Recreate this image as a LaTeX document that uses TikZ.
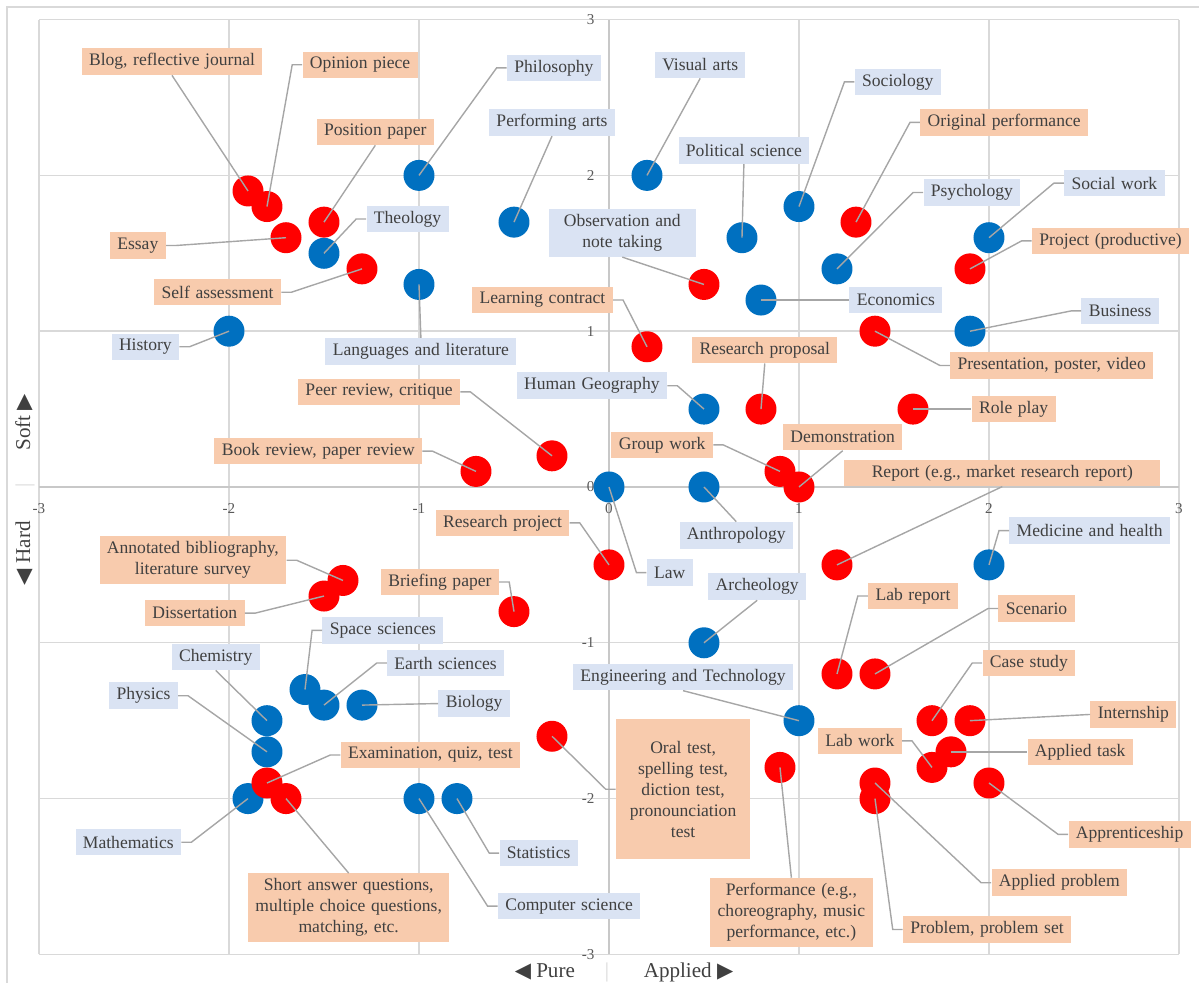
\documentclass[tikz,border=0pt]{standalone}
\usepackage{fontspec}
\setmainfont{Liberation Serif}
\newfontfamily\symfont{DejaVu Sans}
\definecolor{chText}{HTML}{404040}
\definecolor{chTick}{HTML}{595959}
\definecolor{chGrid}{HTML}{D9D9D9}
\definecolor{chAxis}{HTML}{C8C8C8}
\definecolor{chLead}{HTML}{A6A6A6}
\definecolor{chRed}{HTML}{FF0000}
\definecolor{chBlue}{HTML}{0070C0}
\definecolor{chPeach}{HTML}{F8CBAD}
\definecolor{chSky}{HTML}{DAE3F3}
\usepackage{tikz}
\newcommand\labfont{\fontsize{10}{11.9}\selectfont\spaceskip=0.32em plus 0.05em minus 0.02em}

\begin{document}
\begin{tikzpicture}[
  x=3.8cm, y=3.116cm,
  lab/.style={text=chText, font=\labfont, align=center,
    inner xsep=4.2pt, inner ysep=3pt, minimum height=0.53cm},
  task/.style={lab, fill=chPeach},
  field/.style={lab, fill=chSky},
  rpt/.style={circle, fill=chRed, inner sep=0pt, minimum size=0.62cm},
  bpt/.style={circle, fill=chBlue, inner sep=0pt, minimum size=0.62cm},
  lead/.style={draw=chLead, line width=0.8pt},
  gridl/.style={draw=chGrid, line width=0.8pt},
  ticklab/.style={text=chTick, font=\fontsize{8.6}{10}\selectfont, inner sep=1pt},
  axtitle/.style={text=chText, font=\fontsize{12}{14}\selectfont}
]
  \useasboundingbox (-3.2053,-3.1836) rectangle (3.1053,3.1258);

  % chart frame and grid
  \draw[gridl] (-3.1684,-3.1836) -- (-3.1684,3.0809) -- (3.1053,3.0809);
  \foreach \k in {-3,...,3} {
    \draw[gridl] (\k,-3) -- (\k,3);
    \draw[gridl] (-3,\k) -- (3,\k);
  }
  \draw[draw=chAxis, line width=0.8pt] (-3,0) -- (3,0);
  \draw[draw=chAxis, line width=0.8pt] (0,-3) -- (0,3);
  \foreach \k in {-3,...,3} {
    \node[ticklab] (xt\k) at (\k,-0.141) {\k};
    \node[ticklab, anchor=east] (yt\k) at (-0.065,\k) {\k};
  }

  % axis titles
  \node[axtitle] (xtitle) at (0.079,-3.113)
    {{\symfont ◀} Pure\hspace{17pt}{\color{chGrid}|}\hspace{19.8pt}Applied {\symfont ▶}};
  \node[axtitle, rotate=90] (ytitle) at (-3.074,-0.016)
    {{\symfont ◀} Hard\hspace{19.2pt}{\color{chGrid}|}\hspace{18.7pt}Soft {\symfont ▶}};

  % disciplines
  \node[bpt] (p-philosophy) at (-1,2) {};
  \node[bpt] (p-theology) at (-1.5,1.5) {};
  \node[bpt] (p-performing) at (-0.5,1.7) {};
  \node[bpt] (p-visual) at (0.2,2) {};
  \node[bpt] (p-polsci) at (0.7,1.6) {};
  \node[bpt] (p-sociology) at (1,1.8) {};
  \node[bpt] (p-psych) at (1.2,1.4) {};
  \node[bpt] (p-socwork) at (2,1.6) {};
  \node[bpt] (p-econ) at (0.8,1.2) {};
  \node[bpt] (p-business) at (1.9,1) {};
  \node[bpt] (p-languages) at (-1,1.3) {};
  \node[bpt] (p-history) at (-2,1) {};
  \node[bpt] (p-humgeo) at (0.5,0.5) {};
  \node[bpt] (p-law) at (0,0) {};
  \node[bpt] (p-anthro) at (0.5,0) {};
  \node[bpt] (p-archeo) at (0.5,-1) {};
  \node[bpt] (p-medicine) at (2,-0.5) {};
  \node[bpt] (p-engineer) at (1,-1.5) {};
  \node[bpt] (p-space) at (-1.6,-1.3) {};
  \node[bpt] (p-earth) at (-1.5,-1.4) {};
  \node[bpt] (p-biology) at (-1.3,-1.4) {};
  \node[bpt] (p-chem) at (-1.8,-1.5) {};
  \node[bpt] (p-physics) at (-1.8,-1.7) {};
  \node[bpt] (p-maths) at (-1.9,-2) {};
  \node[bpt] (p-compsci) at (-1,-2) {};
  \node[bpt] (p-stats) at (-0.8,-2) {};

  % assessment tasks
  \node[rpt] (p-blog) at (-1.9,1.9) {};
  \node[rpt] (p-opinion) at (-1.8,1.8) {};
  \node[rpt] (p-essay) at (-1.7,1.6) {};
  \node[rpt] (p-position) at (-1.5,1.7) {};
  \node[rpt] (p-selfass) at (-1.3,1.4) {};
  \node[rpt] (p-observ) at (0.5,1.3) {};
  \node[rpt] (p-learning) at (0.2,0.9) {};
  \node[rpt] (p-original) at (1.3,1.7) {};
  \node[rpt] (p-project) at (1.9,1.4) {};
  \node[rpt] (p-present) at (1.4,1) {};
  \node[rpt] (p-proposal) at (0.8,0.5) {};
  \node[rpt] (p-roleplay) at (1.6,0.5) {};
  \node[rpt] (p-peer) at (-0.3,0.2) {};
  \node[rpt] (p-bookrev) at (-0.7,0.1) {};
  \node[rpt] (p-group) at (0.9,0.1) {};
  \node[rpt] (p-demo) at (1,0) {};
  \node[rpt] (p-report) at (1.2,-0.5) {};
  \node[rpt] (p-resproj) at (0,-0.5) {};
  \node[rpt] (p-briefing) at (-0.5,-0.8) {};
  \node[rpt] (p-annot) at (-1.4,-0.6) {};
  \node[rpt] (p-dissert) at (-1.5,-0.7) {};
  \node[rpt] (p-exam) at (-1.8,-1.9) {};
  \node[rpt] (p-shortans) at (-1.7,-2) {};
  \node[rpt] (p-oral) at (-0.3,-1.6) {};
  \node[rpt] (p-perform) at (0.9,-1.8) {};
  \node[rpt] (p-labrep) at (1.2,-1.2) {};
  \node[rpt] (p-scenario) at (1.4,-1.2) {};
  \node[rpt] (p-casest) at (1.7,-1.5) {};
  \node[rpt] (p-intern) at (1.9,-1.5) {};
  \node[rpt] (p-apptask) at (1.8,-1.7) {};
  \node[rpt] (p-labwork) at (1.7,-1.8) {};
  \node[rpt] (p-appren) at (2,-1.9) {};
  \node[rpt] (p-appprob) at (1.4,-1.9) {};
  \node[rpt] (p-probset) at (1.4,-2) {};

  % discipline labels
  \node[field] (philosophy) at (-0.29,2.69) {Philosophy};
  \node[field] (theology) at (-1.06,1.72) {Theology};
  \node[field] (performing) at (-0.30,2.34) {Performing arts};
  \node[field] (visual) at (0.48,2.71) {Visual arts};
  \node[field] (polsci) at (0.71,2.16) {Political science};
  \node[field] (sociology) at (1.52,2.60) {Sociology};
  \node[field] (psych) at (1.91,1.89) {Psychology};
  \node[field] (socwork) at (2.66,1.95) {Social work};
  \node[field] (econ) at (1.51,1.20) {Economics};
  \node[field] (business) at (2.69,1.13) {Business};
  \node[field] (languages) at (-0.99,0.87) {Languages and literature};
  \node[field] (history) at (-2.44,0.90) {History};
  \node[field] (humgeo) at (-0.09,0.65) {Human Geography};
  \node[field] (law) at (0.32,-0.55) {Law};
  \node[field] (anthro) at (0.67,-0.31) {Anthropology};
  \node[field] (archeo) at (0.78,-0.64) {Archeology};
  \node[field] (medicine) at (2.53,-0.28) {Medicine and health};
  \node[field] (engineer) at (0.39,-1.22) {Engineering and Technology};
  \node[field] (space) at (-1.19,-0.92) {Space sciences};
  \node[field] (earth) at (-0.86,-1.13) {Earth sciences};
  \node[field] (biology) at (-0.71,-1.39) {Biology};
  \node[field] (chem) at (-2.07,-1.09) {Chemistry};
  \node[field] (physics) at (-2.45,-1.34) {Physics};
  \node[field] (maths) at (-2.53,-2.28) {Mathematics};
  \node[field] (compsci) at (-0.21,-2.69) {Computer science};
  \node[field] (stats) at (-0.37,-2.35) {Statistics};
  \node[field, minimum width=2.94cm] (observ) at (0.07,1.63) {Observation and\\note taking};

  % task labels
  \node[task] (blog) at (-2.30,2.73) {Blog, reflective journal};
  \node[task] (opinion) at (-1.31,2.71) {Opinion piece};
  \node[task] (position) at (-1.23,2.28) {Position paper};
  \node[task] (essay) at (-2.48,1.55) {Essay};
  \node[task] (selfass) at (-2.06,1.25) {Self assessment};
  \node[task] (learning) at (-0.35,1.20) {Learning contract};
  \node[task] (original) at (2.08,2.34) {Original performance};
  \node[task] (project) at (2.64,1.58) {Project (productive)};
  \node[task] (present) at (2.33,0.78) {Presentation, poster, video};
  \node[task] (proposal) at (0.82,0.88) {Research proposal};
  \node[task] (roleplay) at (2.13,0.50) {Role play};
  \node[task] (peer) at (-1.21,0.61) {Peer review, critique};
  \node[task] (bookrev) at (-1.53,0.23) {Book review, paper review};
  \node[task] (group) at (0.28,0.27) {Group work};
  \node[task] (demo) at (1.23,0.32) {Demonstration};
  \node[task, minimum width=6.32cm] (report) at (2.07,0.09) {Report (e.g., market research report)};
  \node[task] (resproj) at (-0.56,-0.23) {Research project};
  \node[task] (briefing) at (-0.89,-0.61) {Briefing paper};
  \node[task] (annot) at (-2.19,-0.47) {Annotated bibliography,\\literature survey};
  \node[task] (dissert) at (-2.18,-0.81) {Dissertation};
  \node[task] (exam) at (-0.94,-1.72) {Examination, quiz, test};
  \node[task] (shortans) at (-1.37,-2.70) {Short answer questions,\\multiple choice questions,\\matching, etc.};
  \node[task, minimum width=2.68cm, minimum height=2.8cm] (oral) at (0.39,-1.94)
    {Oral test,\\spelling test,\\diction test,\\pronounciation\\test};
  \node[task] (perform) at (0.96,-2.73) {Performance (e.g.,\\choreography, music\\performance, etc.)};
  \node[task] (labrep) at (1.60,-0.70) {Lab report};
  \node[task] (scenario) at (2.25,-0.78) {Scenario};
  \node[task] (casest) at (2.21,-1.13) {Case study};
  \node[task] (intern) at (2.76,-1.46) {Internship};
  \node[task] (apptask) at (2.48,-1.70) {Applied task};
  \node[task] (labwork) at (1.32,-1.63) {Lab work};
  \node[task] (appren) at (2.74,-2.23) {Apprenticeship};
  \node[task] (appprob) at (2.37,-2.54) {Applied problem};
  \node[task] (probset) at (1.99,-2.84) {Problem, problem set};

  % leader lines
  \draw[lead] (p-blog.center) -- (blog.south);
  \draw[lead] (p-opinion.center) -- ([xshift=-0.2cm]opinion.west) -- (opinion.west);
  \draw[lead] (p-position.center) -- (position.south);
  \draw[lead] (p-essay.center) -- ([xshift=0.2cm]essay.east) -- (essay.east);
  \draw[lead] (p-selfass.center) -- ([xshift=0.2cm]selfass.east) -- (selfass.east);
  \draw[lead] (p-theology.center) -- ([xshift=-0.2cm]theology.west) -- (theology.west);
  \draw[lead] (p-philosophy.center) -- ([xshift=-0.2cm]philosophy.west) -- (philosophy.west);
  \draw[lead] (p-performing.center) -- (performing.south);
  \draw[lead] (p-visual.center) -- (visual.south);
  \draw[lead] (p-polsci.center) -- (polsci.south);
  \draw[lead] (p-observ.center) -- (observ.south);
  \draw[lead] (p-learning.center) -- ([xshift=0.2cm]learning.east) -- (learning.east);
  \draw[lead] (p-econ.center) -- (econ.west);
  \draw[lead] (p-sociology.center) -- ([xshift=-0.2cm]sociology.west) -- (sociology.west);
  \draw[lead] (p-original.center) -- ([xshift=-0.2cm]original.west) -- (original.west);
  \draw[lead] (p-psych.center) -- ([xshift=-0.2cm]psych.west) -- (psych.west);
  \draw[lead] (p-socwork.center) -- ([xshift=-0.2cm]socwork.west) -- (socwork.west);
  \draw[lead] (p-project.center) -- ([xshift=-0.2cm]project.west) -- (project.west);
  \draw[lead] (p-business.center) -- ([xshift=-0.2cm]business.west) -- (business.west);
  \draw[lead] (p-present.center) -- ([xshift=-0.2cm]present.west) -- (present.west);
  \draw[lead] (p-roleplay.center) -- (roleplay.west);
  \draw[lead] (p-history.center) -- ([xshift=0.2cm]history.east) -- (history.east);
  \draw[lead] (p-languages.center) -- (languages.north);
  \draw[lead] (p-peer.center) -- ([xshift=0.2cm]peer.east) -- (peer.east);
  \draw[lead] (p-bookrev.center) -- ([xshift=0.2cm]bookrev.east) -- (bookrev.east);
  \draw[lead] (p-humgeo.center) -- ([xshift=0.2cm]humgeo.east) -- (humgeo.east);
  \draw[lead] (p-proposal.center) -- (proposal.south);
  \draw[lead] (p-group.center) -- ([xshift=0.2cm]group.east) -- (group.east);
  \draw[lead] (p-demo.center) -- (demo.south);
  \draw[lead] (p-report.center) -- (report.south);
  \draw[lead] (p-resproj.center) -- ([xshift=0.2cm]resproj.east) -- (resproj.east);
  \draw[lead] (p-law.center) -- ([xshift=-0.2cm]law.west) -- (law.west);
  \draw[lead] (p-anthro.center) -- (anthro.north);
  \draw[lead] (p-archeo.center) -- (archeo.south);
  \draw[lead] (p-medicine.center) -- ([xshift=-0.2cm]medicine.west) -- (medicine.west);
  \draw[lead] (p-briefing.center) -- ([xshift=0.2cm]briefing.east) -- (briefing.east);
  \draw[lead] (p-annot.center) -- ([xshift=0.2cm]annot.east) -- (annot.east);
  \draw[lead] (p-dissert.center) -- ([xshift=0.2cm]dissert.east) -- (dissert.east);
  \draw[lead] (p-space.center) -- ([xshift=-0.2cm]space.west) -- (space.west);
  \draw[lead] (p-earth.center) -- ([xshift=-0.2cm]earth.west) -- (earth.west);
  \draw[lead] (p-biology.center) -- (biology.west);
  \draw[lead] (p-chem.center) -- (chem.south);
  \draw[lead] (p-physics.center) -- ([xshift=0.2cm]physics.east) -- (physics.east);
  \draw[lead] (p-maths.center) -- ([xshift=0.2cm]maths.east) -- (maths.east);
  \draw[lead] (p-exam.center) -- ([xshift=-0.2cm]exam.west) -- (exam.west);
  \draw[lead] (p-shortans.center) -- (shortans.north);
  \draw[lead] (p-compsci.center) -- ([xshift=-0.2cm]compsci.west) -- (compsci.west);
  \draw[lead] (p-stats.center) -- ([xshift=-0.2cm]stats.west) -- (stats.west);
  \draw[lead] (p-oral.center) -- ([xshift=-0.2cm]oral.west) -- (oral.west);
  \draw[lead] (p-engineer.center) -- (engineer.south);
  \draw[lead] (p-perform.center) -- (perform.north);
  \draw[lead] (p-labrep.center) -- ([xshift=-0.2cm]labrep.west) -- (labrep.west);
  \draw[lead] (p-scenario.center) -- ([xshift=-0.2cm]scenario.west) -- (scenario.west);
  \draw[lead] (p-casest.center) -- ([xshift=-0.2cm]casest.west) -- (casest.west);
  \draw[lead] (p-intern.center) -- (intern.west);
  \draw[lead] (p-apptask.center) -- (apptask.west);
  \draw[lead] (p-labwork.center) -- ([xshift=0.2cm]labwork.east) -- (labwork.east);
  \draw[lead] (p-appren.center) -- ([xshift=-0.2cm]appren.west) -- (appren.west);
  \draw[lead] (p-appprob.center) -- ([xshift=-0.2cm]appprob.west) -- (appprob.west);
  \draw[lead] (p-probset.center) -- ([xshift=-0.2cm]probset.west) -- (probset.west);
\end{tikzpicture}
\end{document}
